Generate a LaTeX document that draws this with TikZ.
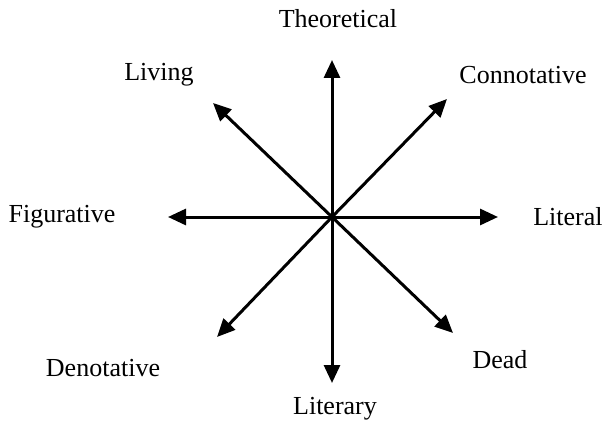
\documentclass[tikz,border=0pt]{standalone}
\usepackage{fontspec}
\setmainfont{Liberation Serif}
\usetikzlibrary{arrows.meta,positioning}
\tikzset{every picture/.style={line width=3pt}}
\tikzset{
    axis/.style={-{Triangle[length=18pt,width=16pt]}},
    word/.style={font=\fontsize{26}{30}\selectfont, inner sep=0pt}
}

\begin{document}
\begin{tikzpicture}[x=1pt,y=1pt]
    \useasboundingbox (0,0) rectangle (605,-425);
    \coordinate (o) at (332,-217);
    \coordinate[above=157pt of o] (up);
    \coordinate[below=166pt of o] (down);
    \coordinate[left=164pt of o] (west);
    \coordinate[right=166pt of o] (east);
    \coordinate[above left=114pt and 119pt of o] (nw);
    \coordinate[above right=118pt and 115pt of o] (ne);
    \coordinate[below left=120pt and 115pt of o] (sw);
    \coordinate[below right=116pt and 121pt of o] (se);
    % labels
    \node[word] (theo) at (338,-19) {Theoretical};
    \node[word] (liter) at (335,-409) {Literary};
    \node[word] (fig) at (62,-217) {Figurative};
    \node[word] (lit) at (568,-217) {Literal};
    \node[word] (liv) at (159,-75) {Living};
    \node[word] (conn) at (523,-75) {Connotative};
    \node[word] (deno) at (103,-368) {Denotative};
    \node[word] (dead) at (500,-360) {Dead};
    % arrows
    \foreach \t in {up,down,west,east,nw,ne,sw,se}
        \draw[axis] (o) -- (\t);
\end{tikzpicture}
\end{document}
